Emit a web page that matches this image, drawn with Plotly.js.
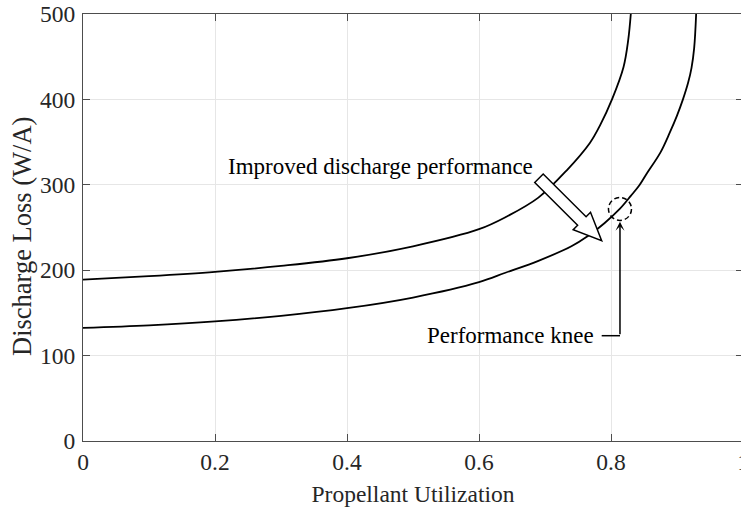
<!DOCTYPE html>
<html>
<head>
<meta charset="utf-8">
<script src="https://cdn.plot.ly/plotly-3.0.1.min.js"></script>
<style>
html, body { margin: 0; padding: 0; overflow: hidden; background: #fff; }
#chart { width: 743px; height: 514px; }
</style>
</head>
<body>
<div id="chart"></div>
<script>
// Data
const utilUpper = [0, 0.1, 0.2, 0.3, 0.4, 0.5, 0.6, 0.64, 0.69, 0.733, 0.768, 0.783, 0.802, 0.819, 0.826, 0.830];
const lossUpper = [189, 193, 198, 205, 214, 228, 248, 262, 285, 317, 349, 369, 401, 438, 469, 500];

const utilLower = [0, 0.1, 0.2, 0.3, 0.4, 0.5, 0.6, 0.64, 0.69, 0.74, 0.765, 0.79, 0.8136, 0.83, 0.843, 0.854, 0.875, 0.889, 0.9, 0.909, 0.917, 0.922, 0.926, 0.929];
const lossLower = [132.5, 135.5, 140, 146.5, 155.5, 168, 186, 197, 211, 228, 240, 255, 272, 287, 299.5, 313, 338, 361, 381, 400, 420, 437, 460, 500];

const xTickVals = [0, 0.2, 0.4, 0.6, 0.8, 1];
const xTickText = ['0', '0.2', '0.4', '0.6', '0.8', '1'];
const yTickVals = [0, 100, 200, 300, 400, 500];
const yTickText = ['0', '100', '200', '300', '400', '500'];

const xTitle = 'Propellant Utilization';
const yTitle = 'Discharge Loss (W/A)';
const improvedLabel = 'Improved discharge performance';
const kneeLabel = 'Performance knee';
const kneePoint = [0.8136, 271.7];        // dashed circle centre
const arrowTip = [0.7859, 234.5];         // tip of the hollow arrow
const kneeLabelPos = [0.7773, 123.3];     // right end of the knee label
const improvedLabelPos = [0.6848, 321.2]; // right end of the improvement label

const FONT = '"Liberation Serif", "Times New Roman", serif';

// Hollow block arrow path in pixels relative to its tip (y up)
function blockArrow(L, H, w, W, dx, dy) {
  const n = Math.hypot(dx, dy);
  const d = [dx / n, dy / n];
  const p = [-d[1], d[0]];
  const B = [-H * d[0], -H * d[1]];
  const S = [-L * d[0], -L * d[1]];
  const pts = [
    [0, 0],
    [B[0] + W * p[0], B[1] + W * p[1]],
    [B[0] + w * p[0], B[1] + w * p[1]],
    [S[0] + w * p[0], S[1] + w * p[1]],
    [S[0] - w * p[0], S[1] - w * p[1]],
    [B[0] - w * p[0], B[1] - w * p[1]],
    [B[0] - W * p[0], B[1] - W * p[1]]
  ];
  return 'M' + pts.map(q => q[0].toFixed(2) + ',' + q[1].toFixed(2)).join('L') + 'Z';
}

const lineStyle = { color: '#000', width: 1.8, shape: 'spline', smoothing: 1 };

const traces = [
  { x: utilUpper, y: lossUpper, mode: 'lines', line: lineStyle, hoverinfo: 'skip' },
  { x: utilLower, y: lossLower, mode: 'lines', line: lineStyle, hoverinfo: 'skip' }
];

const axisCommon = {
  showline: true, linecolor: '#4d4d4d', linewidth: 1,
  mirror: 'ticks', ticks: 'inside', ticklen: 7, tickwidth: 1, tickcolor: '#4d4d4d',
  showgrid: true, gridcolor: '#e6e6e6', gridwidth: 1, zeroline: false,
  tickfont: { family: FONT, size: 23.5, color: '#262626' },
  ticklabeloverflow: 'allow',
  fixedrange: true
};

const layout = {
  width: 743, height: 514,
  margin: { l: 83, r: 0, t: 14, b: 73 },
  paper_bgcolor: '#fff', plot_bgcolor: '#fff',
  showlegend: false,
  font: { family: FONT, color: '#262626' },
  xaxis: Object.assign({}, axisCommon, {
    range: [0, 1], tickvals: xTickVals, ticktext: xTickText,
    title: { text: xTitle, font: { family: FONT, size: 23.5, color: '#262626' }, standoff: 11 }
  }),
  yaxis: Object.assign({}, axisCommon, {
    range: [0, 500], tickvals: yTickVals, ticktext: yTickText,
    ticklabelstandoff: 2
  }),
  shapes: [
    { type: 'circle', xref: 'x', yref: 'y', xsizemode: 'pixel', ysizemode: 'pixel',
      xanchor: kneePoint[0], yanchor: kneePoint[1], x0: -11.5, x1: 11.5, y0: -11.5, y1: 11.5,
      line: { color: '#000', width: 1.5, dash: '5px,3px' }, layer: 'above' },
    { type: 'path', xref: 'x', yref: 'y', xsizemode: 'pixel', ysizemode: 'pixel',
      xanchor: arrowTip[0], yanchor: arrowTip[1],
      path: blockArrow(88.5, 28, 6, 12.3, 62.7, -62.4),
      fillcolor: '#fff', line: { color: '#000', width: 1.5 }, layer: 'above' },
    { type: 'line', xref: 'x', yref: 'y',
      x0: 0.7859, x1: kneePoint[0], y0: kneeLabelPos[1], y1: kneeLabelPos[1],
      line: { color: '#000', width: 1.5 }, layer: 'above' }
  ],
  annotations: [
    { x: -0.0924, y: 0.4778, xref: 'paper', yref: 'paper', text: yTitle, textangle: -90,
      showarrow: false, xanchor: 'center', yanchor: 'middle',
      font: { family: FONT, size: 26.5, color: '#262626' } },
    { x: improvedLabelPos[0], y: improvedLabelPos[1], xref: 'x', yref: 'y',
      text: improvedLabel, showarrow: false, xanchor: 'right', yanchor: 'middle',
      font: { family: FONT, size: 23, color: '#000' } },
    { x: kneeLabelPos[0], y: kneeLabelPos[1], xref: 'x', yref: 'y',
      text: kneeLabel, showarrow: false, xanchor: 'right', yanchor: 'middle',
      font: { family: FONT, size: 23, color: '#000' } },
    { x: kneePoint[0], y: 256.8, xref: 'x', yref: 'y', text: '',
      showarrow: true, ax: 0, ay: 114, axref: 'pixel', ayref: 'pixel',
      arrowhead: 3, arrowsize: 1, arrowwidth: 1.5, arrowcolor: '#000', standoff: 0 }
  ]
};

Plotly.newPlot('chart', traces, layout, { displayModeBar: false, staticPlot: true });
</script>
</body>
</html>
